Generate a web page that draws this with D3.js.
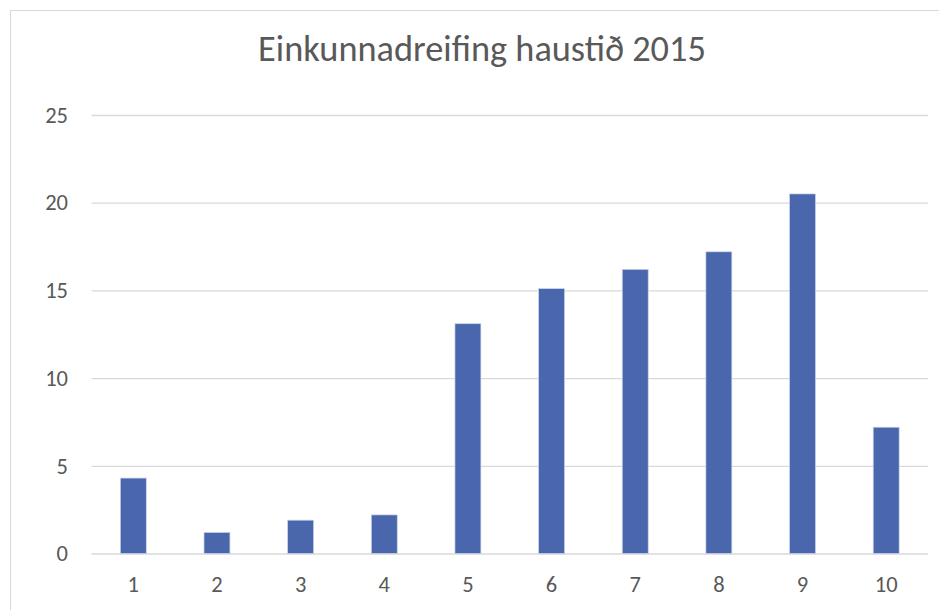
<!DOCTYPE html>
<html>
<head>
<meta charset="utf-8">
<script src="https://cdn.jsdelivr.net/npm/d3@7"></script>
<style>
  html, body { margin: 0; padding: 0; background: #fff; }
  svg { display: block; }
</style>
</head>
<body>
<svg id="chart" width="939" height="610"></svg>
<script>
const title = "Einkunnadreifing haustið 2015";
const categories = ["1", "2", "3", "4", "5", "6", "7", "8", "9", "10"];
const values = [4.3, 1.2, 1.9, 2.2, 13.1, 15.1, 16.2, 17.2, 20.5, 7.2];
const yTicks = [0, 5, 10, 15, 20, 25];

const W = 939, H = 610;
const margin = { left: 91.5, right: 11, top: 115, bottom: 56.5 };
const svg = d3.select("#chart");
const font = "Carlito, Calibri, Lato, 'Open Sans', sans-serif";
const labelSize = 22.5;

// frame
svg.append("rect")
  .attr("x", 10.5).attr("y", 10.5)
  .attr("width", W + 20).attr("height", H + 20)
  .attr("fill", "#fff").attr("stroke", "#d9d9d9").attr("stroke-width", 1);

const x = d3.scaleBand().domain(categories)
  .range([margin.left, W - margin.right]).paddingInner(0.69).paddingOuter(0.345);
const y = d3.scaleLinear().domain([0, 25]).range([H - margin.bottom, margin.top]);

// gridlines
const gy = svg.append("g")
  .attr("transform", `translate(${margin.left},0)`)
  .call(d3.axisLeft(y).tickValues(yTicks).tickSize(-(W - margin.right - margin.left)).tickFormat(""));
gy.select(".domain").remove();
gy.selectAll("line").attr("stroke", "#d9d9d9").attr("stroke-width", 1.3);

// y labels
const yl = svg.append("g")
  .attr("transform", `translate(68,0)`)
  .call(d3.axisLeft(y).tickValues(yTicks).tickSize(0).tickPadding(0));
yl.attr("font-size", labelSize).attr("font-family", font);
yl.select(".domain").remove();
yl.selectAll("text").attr("fill", "#595959");

// bars
svg.append("g").selectAll("rect").data(values).join("rect")
  .attr("x", (d, i) => x(categories[i]))
  .attr("y", d => y(d))
  .attr("width", x.bandwidth())
  .attr("height", d => y(0) - y(d))
  .attr("fill", "#4a66ac")
  .attr("stroke", "#c9d3ea").attr("stroke-width", 0.7);

// x labels
const xl = svg.append("g")
  .attr("transform", `translate(0,${y(0)})`)
  .call(d3.axisBottom(x).tickSize(0).tickPadding(22.5));
xl.attr("font-size", labelSize).attr("font-family", font);
xl.select(".domain").remove();
xl.selectAll("text").attr("fill", "#595959");

// title
const t = svg.append("text")
  .attr("x", 482).attr("y", 61)
  .attr("text-anchor", "middle")
  .attr("fill", "#595959")
  .attr("font-family", font)
  .attr("font-size", 28)
  .text(title);
const tw = t.node().getComputedTextLength();
t.attr("font-size", 28 * 448 / tw);
</script>
</body>
</html>
